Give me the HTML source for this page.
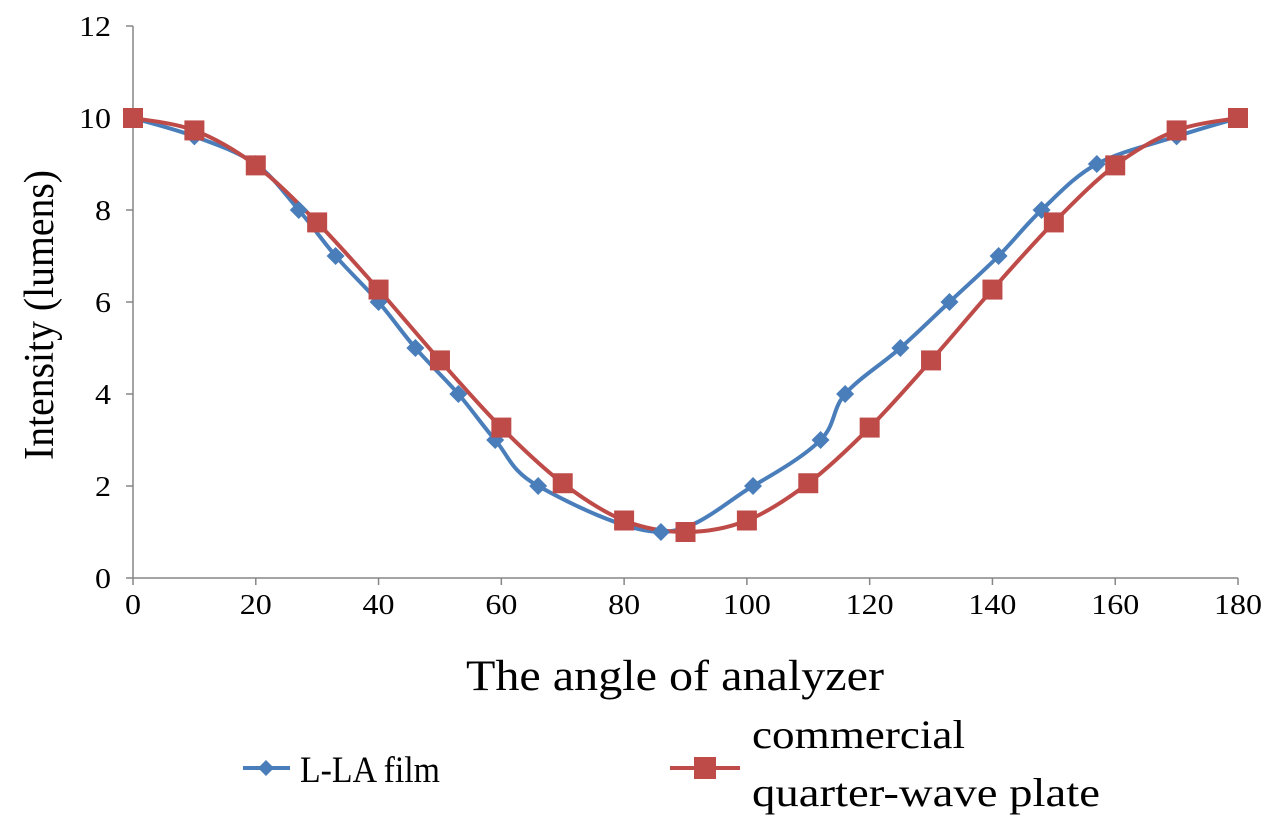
<!DOCTYPE html>
<html><head><meta charset="utf-8"><style>
body{margin:0;background:#fff;}
svg{display:block;font-family:"Liberation Serif",serif;}
</style></head><body>
<svg id="chart" width="1277" height="823">
<g id="axes"></g><g id="series"></g>
<text x="675" y="690" font-size="43" text-anchor="middle" textLength="418" lengthAdjust="spacingAndGlyphs">The angle of analyzer</text>
<text transform="translate(53,315) rotate(-90)" font-size="42" text-anchor="middle" textLength="290" lengthAdjust="spacingAndGlyphs">Intensity (lumens)</text>
<g>
<g>
<line x1="243" y1="768" x2="290" y2="768" stroke="#4a7ebb" stroke-width="4"/>
<path d="M266,760 L274,768 L266,776 L258,768Z" fill="#4a7ebb"/>
<text x="300" y="782" font-size="37" textLength="140" lengthAdjust="spacingAndGlyphs">L-LA film</text></g>
<g>
<line x1="670" y1="768" x2="740" y2="768" stroke="#be4b48" stroke-width="4"/>
<rect x="694" y="757" width="22" height="22" fill="#be4b48"/>
<text x="752" y="748" font-size="40" textLength="213" lengthAdjust="spacingAndGlyphs">commercial</text>
<text x="752" y="806" font-size="40" textLength="348" lengthAdjust="spacingAndGlyphs">quarter-wave plate</text></g>
</g>
</svg>
<script>
const xTicks=[0,20,40,60,80,100,120,140,160,180];
const yTicks=[0,2,4,6,8,10,12];
const blueX=[0,10,20,27,33,40,46,53,59,66,86,101,112,116,125,133,141,148,157,170,180];
const blueY=[10,9.6,9,8,7,6,5,4,3,2,1,2,3,4,5,6,7,8,9,9.6,10];
const redX=[0,10,20,30,40,50,60,70,80,90,100,110,120,130,140,150,160,170,180];
const redY=[10,9.73,8.97,7.73,6.27,4.73,3.27,2.06,1.25,1,1.25,2.06,3.27,4.73,6.27,7.73,8.97,9.73,10];
const X=v=>133+v*(1238-133)/180, Y=v=>578-v*46;
const NS="http://www.w3.org/2000/svg";
const axes=document.getElementById('axes'), ser=document.getElementById('series');
function mk(tag,attrs,parent){const e=document.createElementNS(NS,tag);for(const k in attrs)e.setAttribute(k,attrs[k]);parent.appendChild(e);return e;}
let l=mk('line',{x1:X(0),y1:Y(0),x2:X(180),y2:Y(0),stroke:'#868686','stroke-width':1.5},axes);


l=mk('line',{x1:X(0),y1:Y(0),x2:X(0),y2:Y(12),stroke:'#868686','stroke-width':1.5},axes);


xTicks.forEach(t=>{mk('line',{x1:X(t),y1:Y(0),x2:X(t),y2:Y(0)+7,stroke:'#868686','stroke-width':1.5},axes);
const s=String(t);
const tx=mk('text',{x:X(t),y:614,'font-size':29,'text-anchor':'middle',textLength:s.length*16,lengthAdjust:'spacingAndGlyphs'},axes);tx.textContent=s;

});
yTicks.forEach(t=>{mk('line',{x1:X(0)-7,y1:Y(t),x2:X(0),y2:Y(t),stroke:'#868686','stroke-width':1.5},axes);
const s=String(t);
const tx=mk('text',{x:111,y:Y(t)+10,'font-size':29,'text-anchor':'end',textLength:s.length*16,lengthAdjust:'spacingAndGlyphs'},axes);tx.textContent=s;

});
function smooth(xs,ys){const p=xs.map((x,i)=>[X(x),Y(ys[i])]);let d='M'+p[0];
for(let i=0;i<p.length-1;i++){const a=p[i-1]||p[i],b=p[i],c=p[i+1],e=p[i+2]||c;
d+=` C${b[0]+(c[0]-a[0])/6},${b[1]+(c[1]-a[1])/6} ${c[0]-(e[0]-b[0])/6},${c[1]-(e[1]-b[1])/6} ${c[0]},${c[1]}`;}return d;}
let pth=mk('path',{d:smooth(blueX,blueY),fill:'none',stroke:'#4a7ebb','stroke-width':4},ser);


pth=mk('path',{d:smooth(redX,redY),fill:'none',stroke:'#be4b48','stroke-width':4},ser);


blueX.forEach((x,i)=>{const cx=X(x),cy=Y(blueY[i]);
const m=mk('path',{d:`M${cx},${cy-9} L${cx+9},${cy} L${cx},${cy+9} L${cx-9},${cy}Z`,fill:'#4a7ebb'},ser);

});
redX.forEach((x,i)=>{const m=mk('rect',{x:X(x)-10,y:Y(redY[i])-10,width:20,height:20,fill:'#be4b48'},ser);

});
</script>
</body></html>
